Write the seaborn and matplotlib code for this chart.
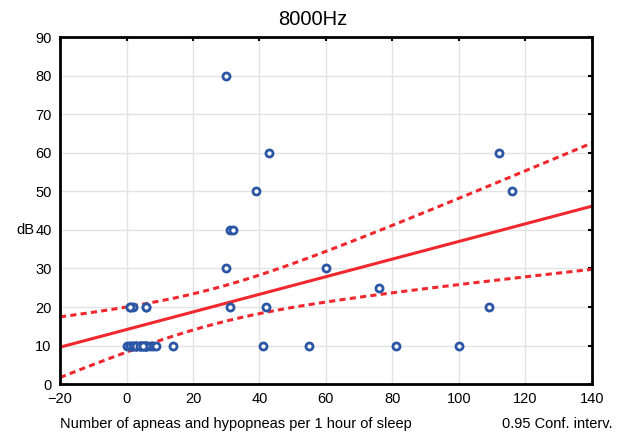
import numpy as np
import pandas as pd
import matplotlib
matplotlib.use("Agg")
import matplotlib.pyplot as plt
import seaborn as sns

# Data (the clusters near x=0-10 hold overlapping points)
apneas = [30, 43, 39, 31, 32, 30, 60, 31, 42, 41, 55, 76, 81, 100, 109, 112, 116,
          1, 2, 6, 1, 6,
          0, 1, 2, 4, 5, 6, 7, 8, 9, 14,
          1, 2, 3, 3, 4, 5, 6, 6, 6, 3, 4, 5]
db = [80, 60, 50, 40, 40, 30, 30, 20, 20, 10, 10, 25, 10, 10, 20, 60, 50,
      20, 20, 20, 20, 20,
      10, 10, 10, 10, 10, 10, 10, 10, 10, 10,
      10, 10, 10, 10, 10, 10, 10, 10, 10, 10, 10, 10]
x_ticks = [-20, 0, 20, 40, 60, 80, 100, 120, 140]
y_ticks = [0, 10, 20, 30, 40, 50, 60, 70, 80, 90]

sns.set_style("white")
plt.rcParams['font.family'] = ['Liberation Sans', 'DejaVu Sans']
plt.rcParams['text.color'] = 'black'
plt.rcParams['axes.labelcolor'] = 'black'

df = pd.DataFrame({"x": apneas, "y": db})

# Linear regression with 0.95 confidence band
x = np.asarray(apneas, float)
y = np.asarray(db, float)
n = len(x)
b1, b0 = np.polyfit(x, y, 1)
resid = y - (b0 + b1 * x)
s = np.sqrt(np.sum(resid ** 2) / (n - 2))
xbar = x.mean()
sxx = np.sum((x - xbar) ** 2)
tval = 2.018  # t(0.975, n-2)
xs = np.linspace(x_ticks[0], x_ticks[-1], 200)
yhat = b0 + b1 * xs
se = s * np.sqrt(1.0 / n + (xs - xbar) ** 2 / sxx)
fit = pd.DataFrame({"x": xs, "fit": yhat, "lo": yhat - tval * se, "hi": yhat + tval * se})

fig = plt.figure(figsize=(6.19, 4.37), dpi=100)
ax = fig.add_axes([0.097, 0.121, 0.859, 0.794])

red = "#f0282d"
sns.lineplot(data=fit, x="x", y="fit", ax=ax, color=red, lw=2.2, zorder=2)
sns.lineplot(data=fit, x="x", y="lo", ax=ax, color=red, lw=2.2, ls=(0, (2, 1.4)), zorder=2)
sns.lineplot(data=fit, x="x", y="hi", ax=ax, color=red, lw=2.2, ls=(0, (2, 1.4)), zorder=2)
sns.scatterplot(data=df, x="x", y="y", ax=ax, marker="o", s=26,
                facecolor="white", edgecolor="#2b55a5", linewidth=2.0, zorder=3)

ax.set_xlim(x_ticks[0], x_ticks[-1])
ax.set_ylim(y_ticks[0], y_ticks[-1])
ax.set_xticks(x_ticks)
ax.set_yticks(y_ticks)
ax.grid(True, color="#e3e3e3", lw=1)
ax.set_axisbelow(True)
for sp in ax.spines.values():
    sp.set_color("black")
    sp.set_linewidth(2)
ax.tick_params(direction="in", length=3, width=1.5, labelsize=10.5, colors="black",
               top=True, right=True, pad=6)
ax.set_xlabel("")
ax.set_ylabel("dB", rotation=0, fontsize=10.5, va="center", ha="center")
ax.yaxis.set_label_coords(-0.066, 0.445)
fig.text(0.506, 0.955, "8000Hz", fontsize=14.5, ha="center", va="center")
fig.text(0.097, 0.03, "Number of apneas and hypopneas per 1 hour of sleep",
         fontsize=10.5, ha="left", va="center")
fig.text(0.99, 0.03, "0.95 Conf. interv.", fontsize=10.5, ha="right", va="center")

fig.savefig("out.png", dpi=100)
